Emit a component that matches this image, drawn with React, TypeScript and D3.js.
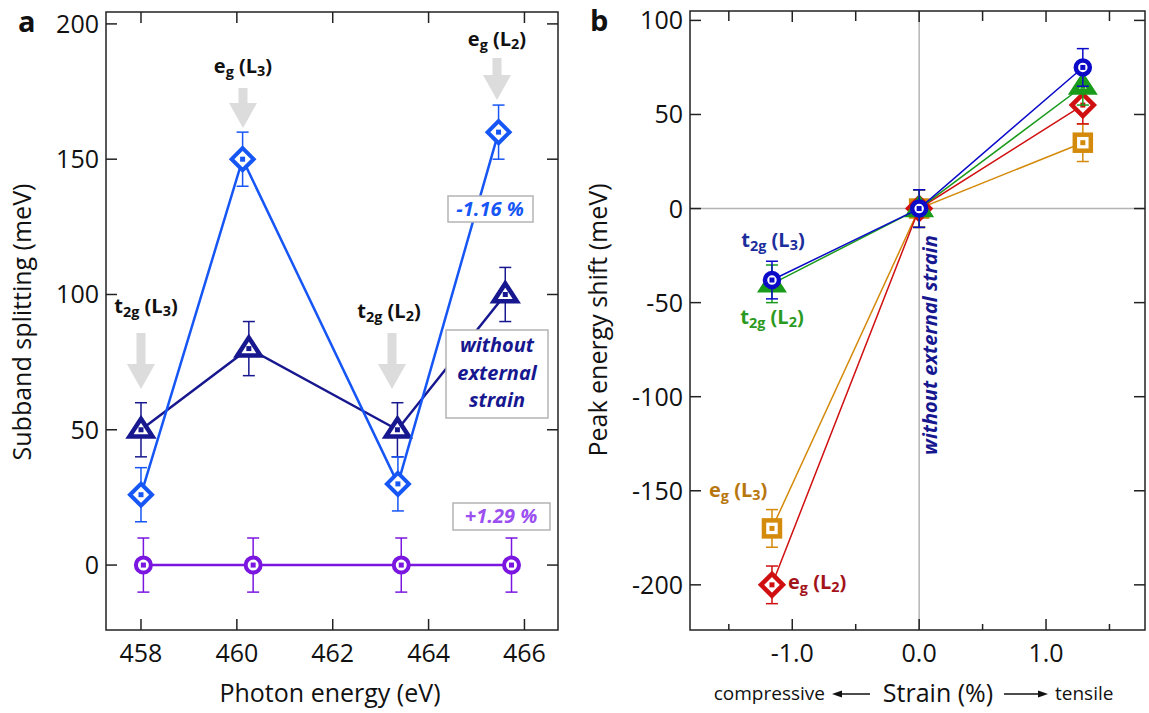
import React from 'react'
import * as d3 from 'd3'

// panel a: subband splitting vs photon energy
const energyMinus = [458.0, 460.12, 463.36, 465.46]
const splitMinus = [26, 150, 30, 160]
const energyNone = [458.0, 460.25, 463.35, 465.6]
const splitNone = [50, 80, 50, 100]
const energyPlus = [458.05, 460.34, 463.43, 465.73]
const splitPlus = [0, 0, 0, 0]
const errA = 10
const xTicksA = [458, 460, 462, 464, 466]
const yTicksA = [0, 50, 100, 150, 200]

// panel b: peak energy shift vs strain
const strains = [-1.16, 0, 1.29]
const shiftT2gL3 = [-38, 0, 75]
const shiftT2gL2 = [-40, 0, 65]
const shiftEgL2 = [-200, 0, 55]
const shiftEgL3 = [-170, 0, 35]
const errB = 10
const xTicksB = [-1, 0, 1]
const xMinorB = [-1.5, -0.5, 0.5, 1.5]
const yTicksB = [-200, -150, -100, -50, 0, 50, 100]

const FONT = "'Open Sans', 'Noto Sans', sans-serif"

const C = {
  light: '#1656f5',
  navy: '#17178f',
  purple: '#7a16e0',
  purpleTxt: '#9b4ff0',
  blue: '#0a0ac8',
  green: '#1a9a1a',
  red: '#d01010',
  orange: '#d48a0a',
  grey: '#b4b4b4',
  arrow: '#dcdcdc',
}

type Shape = 'diamond' | 'triangle' | 'circle' | 'square'

function Marker({ x, y, shape, color, size, sw }: { x: number; y: number; shape: Shape; color: string; size: number; sw: number }) {
  let el: React.ReactNode = null
  if (shape === 'diamond') {
    el = <path d={`M${x},${y - size}L${x + size},${y}L${x},${y + size}L${x - size},${y}Z`} fill="white" stroke={color} strokeWidth={sw} />
  } else if (shape === 'triangle') {
    el = <path d={`M${x},${y - size}L${x + size * 1.05},${y + size * 0.62}L${x - size * 1.05},${y + size * 0.62}Z`} fill="white" stroke={color} strokeWidth={sw} strokeLinejoin="miter" />
  } else if (shape === 'circle') {
    el = <circle cx={x} cy={y} r={size} fill="white" stroke={color} strokeWidth={sw} />
  } else {
    el = <rect x={x - size} y={y - size} width={size * 2} height={size * 2} fill="white" stroke={color} strokeWidth={sw} />
  }
  return (
    <g>
      {el}
      <rect x={x - 2.5} y={y - 2.5} width={5} height={5} fill={color} />
    </g>
  )
}

function Series(props: {
  xs: number[]; ys: number[]; err: number; xs2: (v: number) => number; ys2: (v: number) => number
  color: string; shape: Shape; size: number; sw: number; lw: number; cap: number
}) {
  const { xs, ys, err, xs2, ys2, color, shape, size, sw, lw, cap } = props
  const pts = xs.map((x, i) => [xs2(x), ys2(ys[i])] as [number, number])
  const line = d3.line()(pts) || ''
  return (
    <g>
      <path d={line} fill="none" stroke={color} strokeWidth={lw} />
      {pts.map(([px], i) => {
        const y0 = ys2(ys[i] - err), y1 = ys2(ys[i] + err)
        return (
          <g key={'e' + i} stroke={color} strokeWidth={1.5}>
            <line x1={px} x2={px} y1={y0} y2={y1} />
            <line x1={px - cap} x2={px + cap} y1={y0} y2={y0} />
            <line x1={px - cap} x2={px + cap} y1={y1} y2={y1} />
          </g>
        )
      })}
      {pts.map(([px, py], i) => (
        <Marker key={'m' + i} x={px} y={py} shape={shape} color={color} size={size} sw={sw} />
      ))}
    </g>
  )
}

// label like e_g (L_3)
function Orb({ x, y, main, sub, l, color, size = 20, anchor = 'middle' }: { x: number; y: number; main: string; sub: string; l: string; color: string; size?: number; anchor?: string }) {
  return (
    <text x={x} y={y} fill={color} fontSize={size} fontWeight="bold" textAnchor={anchor as any} fontFamily={FONT}>
      <tspan>{main}</tspan>
      <tspan dy={4} fontSize={size * 0.72}>{sub}</tspan>
      <tspan dy={-4}> (L</tspan>
      <tspan dy={3} fontSize={size * 0.72}>{l}</tspan>
      <tspan dy={-3}>)</tspan>
    </text>
  )
}

function DownArrow({ x, y0, y1 }: { x: number; y0: number; y1: number }) {
  const head = 25
  const hy = y1 - head
  return (
    <path d={`M${x - 4.5},${y0}L${x + 4.5},${y0}L${x + 4.5},${hy}L${x + 14},${hy}L${x},${y1}L${x - 14},${hy}L${x - 4.5},${hy}Z`} fill={C.arrow} />
  )
}

export default function App() {
  const xA = d3.scaleLinear().domain([457.27, 466.7]).range([106, 558])
  const yA = d3.scaleLinear().domain([-24, 204.4]).range([630, 12])
  const xB = d3.scaleLinear().domain([-1.806, 1.78]).range([690, 1145])
  const yB = d3.scaleLinear().domain([-224, 105]).range([630, 11])

  const [aL, aR] = xA.range()
  const [aB, aT] = yA.range()
  const [bL, bR] = xB.range()
  const [bB, bT] = yB.range()

  return (
    <svg width={1149} height={713} style={{ display: 'block', position: 'absolute', left: 0, top: 0, background: 'white' }} fontFamily={FONT}>
      {/* ---------- panel a ---------- */}
      <text x={18} y={32} fontSize={29} fontWeight="bold" fill="#111">a</text>

      <DownArrow x={141} y0={333} y1={389} />
      <DownArrow x={243} y0={88} y1={128} />
      <DownArrow x={392} y0={333} y1={389} />
      <DownArrow x={497} y0={58} y1={100} />
      <Orb x={146} y={313} main="t" sub="2g" l="3" color="#111" />
      <Orb x={243} y={73} main="e" sub="g" l="3" color="#111" />
      <Orb x={389} y={318} main="t" sub="2g" l="2" color="#111" />
      <Orb x={497} y={46} main="e" sub="g" l="2" color="#111" />

      <Series xs={energyPlus} ys={splitPlus} err={errA} xs2={xA} ys2={yA} color={C.purple} shape="circle" size={7.5} sw={4} lw={2.5} cap={6} />
      <Series xs={energyNone} ys={splitNone} err={errA} xs2={xA} ys2={yA} color={C.navy} shape="triangle" size={11} sw={4.5} lw={2.5} cap={6} />
      <Series xs={energyMinus} ys={splitMinus} err={errA} xs2={xA} ys2={yA} color={C.light} shape="diamond" size={11} sw={4} lw={2.5} cap={6} />

      <rect x={448} y={196} width={85} height={26} fill="white" stroke={C.grey} strokeWidth={1.5} />
      <text x={490} y={216} textAnchor="middle" fontSize={20} fontWeight="bold" fontStyle="italic" fill={C.light}>-1.16 %</text>

      <rect x={446} y={330} width={102} height={88} fill="white" stroke={C.grey} strokeWidth={1.5} />
      <g fontSize={20} fontWeight="bold" fontStyle="italic" fill={C.navy} textAnchor="middle">
        <text x={497} y={352}>without</text>
        <text x={497} y={380}>external</text>
        <text x={497} y={407}>strain</text>
      </g>

      <rect x={453} y={503} width={97} height={27} fill="white" stroke={C.grey} strokeWidth={1.5} />
      <text x={501} y={523} textAnchor="middle" fontSize={20} fontWeight="bold" fontStyle="italic" fill={C.purpleTxt}>+1.29 %</text>

      <rect x={aL} y={aT} width={aR - aL} height={aB - aT} fill="none" stroke="#222" strokeWidth={1.5} />
      <g stroke="#222" strokeWidth={1.5}>
        {xTicksA.map(t => (
          <g key={'xa' + t}>
            <line x1={xA(t)} x2={xA(t)} y1={aB} y2={aB - 11} />
            <line x1={xA(t)} x2={xA(t)} y1={aT} y2={aT + 11} />
          </g>
        ))}
        {yTicksA.map(t => (
          <g key={'ya' + t}>
            <line x1={aL} x2={aL + 11} y1={yA(t)} y2={yA(t)} />
            <line x1={aR} x2={aR - 11} y1={yA(t)} y2={yA(t)} />
          </g>
        ))}
      </g>
      <g fontSize={25} fill="#111">
        {xTicksA.map(t => (
          <text key={'xal' + t} x={xA(t)} y={662} textAnchor="middle">{t}</text>
        ))}
        {yTicksA.map(t => (
          <text key={'yal' + t} x={99} y={yA(t) + 9} textAnchor="end">{t}</text>
        ))}
      </g>
      <text x={330} y={702} textAnchor="middle" fontSize={25} fill="#111">Photon energy (eV)</text>
      <text transform="translate(31,322) rotate(-90)" textAnchor="middle" fontSize={25} fill="#111">Subband splitting (meV)</text>

      {/* ---------- panel b ---------- */}
      <text x={590} y={31} fontSize={29} fontWeight="bold" fill="#111">b</text>

      <line x1={xB(0)} x2={xB(0)} y1={bT} y2={bB} stroke={C.grey} strokeWidth={1.5} />
      <line x1={bL} x2={bR} y1={yB(0)} y2={yB(0)} stroke={C.grey} strokeWidth={1.5} />

      <text transform={`translate(${xB(0) + 18},345) rotate(-90)`} textAnchor="middle" fontSize={20} fontWeight="bold" fontStyle="italic" fill={C.navy}>without external strain</text>

      <Series xs={strains} ys={shiftEgL3} err={errB} xs2={xB} ys2={yB} color={C.orange} shape="square" size={8} sw={4.5} lw={1.5} cap={6} />
      <Series xs={strains} ys={shiftEgL2} err={errB} xs2={xB} ys2={yB} color={C.red} shape="diamond" size={11} sw={4.5} lw={1.5} cap={6} />
      <Series xs={strains} ys={shiftT2gL2} err={errB} xs2={xB} ys2={yB} color={C.green} shape="triangle" size={9} sw={6} lw={1.5} cap={6} />
      <Series xs={strains} ys={shiftT2gL3} err={errB} xs2={xB} ys2={yB} color={C.blue} shape="circle" size={7} sw={4.5} lw={1.5} cap={6} />

      <Orb x={773} y={247} main="t" sub="2g" l="3" color="#1c2e9c" />
      <Orb x={772} y={324} main="t" sub="2g" l="2" color="#2a9a20" />
      <Orb x={709} y={497} main="e" sub="g" l="3" color="#b8760e" anchor="start" />
      <Orb x={788} y={589} main="e" sub="g" l="2" color="#a3141a" anchor="start" />

      <rect x={bL} y={bT} width={bR - bL} height={bB - bT} fill="none" stroke="#222" strokeWidth={1.5} />
      <g stroke="#222" strokeWidth={1.5}>
        {xTicksB.map(t => (
          <g key={'xb' + t}>
            <line x1={xB(t)} x2={xB(t)} y1={bB} y2={bB - 11} />
            <line x1={xB(t)} x2={xB(t)} y1={bT} y2={bT + 11} />
          </g>
        ))}
        {xMinorB.map(t => (
          <g key={'xbm' + t}>
            <line x1={xB(t)} x2={xB(t)} y1={bB} y2={bB - 6} />
            <line x1={xB(t)} x2={xB(t)} y1={bT} y2={bT + 10} />
          </g>
        ))}
        {yTicksB.map(t => (
          <g key={'yb' + t}>
            <line x1={bL} x2={bL + 11} y1={yB(t)} y2={yB(t)} />
            <line x1={bR} x2={bR - 11} y1={yB(t)} y2={yB(t)} />
          </g>
        ))}
      </g>
      <g fontSize={25} fill="#111">
        {xTicksB.map(t => (
          <text key={'xbl' + t} x={xB(t)} y={662} textAnchor="middle">{t.toFixed(1)}</text>
        ))}
        {yTicksB.map(t => (
          <text key={'ybl' + t} x={683} y={yB(t) + 9} textAnchor="end">{t}</text>
        ))}
      </g>
      <text transform="translate(607,320) rotate(-90)" textAnchor="middle" fontSize={25} fill="#111">Peak energy shift (meV)</text>

      <g fill="#111">
        <text x={825} y={700} textAnchor="end" fontSize={19}>compressive</text>
        <line x1={836} x2={870} y1={694} y2={694} stroke="#111" strokeWidth={1.3} />
        <path d="M832,694L842,690.5L842,697.5Z" />
        <text x={938} y={702} textAnchor="middle" fontSize={25}>Strain (%)</text>
        <line x1={1004} x2={1042} y1={694} y2={694} stroke="#111" strokeWidth={1.3} />
        <path d="M1048,694L1038,690.5L1038,697.5Z" />
        <text x={1055} y={700} fontSize={19}>tensile</text>
      </g>
    </svg>
  )
}
